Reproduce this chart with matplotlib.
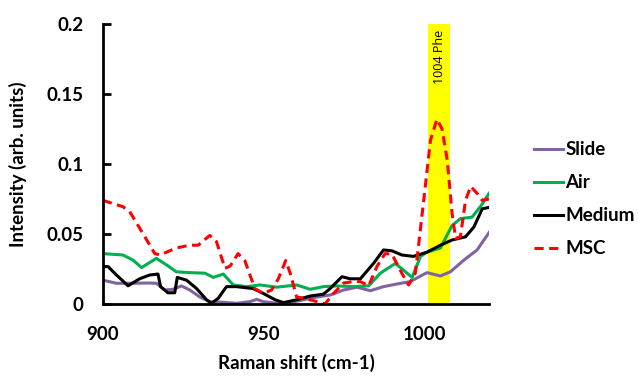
import matplotlib.pyplot as plt
from matplotlib.ticker import FuncFormatter

plt.rcParams['font.family'] = ['Lato', 'DejaVu Sans']
plt.rcParams['font.weight'] = 'bold'

# Slide (purple)
slide_x = [900, 904.2, 909.3, 914, 916.6, 919.2, 921.8, 924.4, 927, 930.1, 933.2, 937.4,
           941.5, 945.7, 947.8, 949.8, 954, 958.2, 962.3, 966.5, 970.6, 974.8, 979, 983.1,
           987.2, 991.4, 995.5, 1000.7, 1004.9, 1008, 1012.2, 1016.3, 1020]
slide_y = [0.017, 0.0148, 0.0148, 0.015, 0.0148, 0.010, 0.0105, 0.0129, 0.010, 0.005, 0.0017, 0.0012,
           0.0005, 0.0017, 0.0033, 0.0017, 0.0005, 0.001, 0.003, 0.005, 0.0064, 0.010, 0.012, 0.0095,
           0.0124, 0.0143, 0.016, 0.0224, 0.020, 0.023, 0.0314, 0.0386, 0.051]

# Air (green)
air_x = [900, 906.2, 909.3, 912, 916.6, 919.7, 922.8, 927, 931.7, 934.3, 937.4, 940.5, 944.7,
         948.8, 954, 960.2, 964.4, 968.5, 972.7, 977.9, 982.6, 986.2, 990.9, 994, 996.1, 998.7,
         1000.7, 1004.9, 1008.5, 1011.1, 1014.7, 1017.3, 1020]
air_y = [0.036, 0.035, 0.0314, 0.026, 0.0326, 0.028, 0.023, 0.0224, 0.022, 0.019, 0.0214, 0.0136, 0.0124,
         0.0136, 0.012, 0.0136, 0.0105, 0.0124, 0.0129, 0.0124, 0.013, 0.022, 0.029, 0.023, 0.019, 0.034,
         0.037, 0.040, 0.056, 0.061, 0.062, 0.0695, 0.079]

# Medium (black)
medium_x = [900, 901.6, 904.2, 907.8, 911.4, 914.5, 917.1, 917.9, 920.2, 922.3, 923.1, 926, 929.1,
            932.2, 933.7, 935.8, 938.4, 941.5, 946.7, 949.8, 953.5, 956.1, 960.2, 964.4, 968.5, 970.6,
            974.3, 976.8, 980, 984.1, 987.2, 989.8, 992.9, 996.5, 1000.7, 1004.9, 1008.5, 1012.7,
            1015.3, 1017.9, 1020]
medium_y = [0.0267, 0.0267, 0.0207, 0.013, 0.018, 0.0207, 0.0214, 0.0124, 0.008, 0.008, 0.019, 0.017, 0.011,
            0.003, 0.0005, 0.004, 0.0124, 0.0124, 0.011, 0.0076, 0.003, 0.001, 0.003, 0.0057, 0.007, 0.011,
            0.0195, 0.018, 0.018, 0.029, 0.0386, 0.038, 0.035, 0.034, 0.037, 0.042, 0.0457, 0.048,
            0.055, 0.068, 0.069]

# MSC (red dashed)
msc_x = [900, 906.2, 908.3, 912.5, 916.1, 917.7, 922.8, 927, 929.6, 933.2, 935.3, 937.9, 939.5, 942,
         944.1, 947.2, 949.8, 952.4, 954.5, 956.8, 958.2, 960.2, 962.8, 966.5, 969, 971.7, 974.8,
         977.9, 980, 982.6, 985.2, 987.7, 989.8, 992.9, 995, 997.1, 999.7, 1001.8, 1003.8, 1005.4,
         1007, 1008.5, 1009.6, 1011.1, 1012.7, 1014.3, 1016.3, 1017.9, 1020]
msc_y = [0.074, 0.0695, 0.066, 0.050, 0.036, 0.035, 0.040, 0.042, 0.042, 0.049, 0.0445, 0.0255, 0.027, 0.036,
         0.031, 0.011, 0.0076, 0.010, 0.018, 0.031, 0.022, 0.005, 0.004, 0.0017, 0.0, 0.0076, 0.015,
         0.016, 0.016, 0.013, 0.027, 0.036, 0.0357, 0.022, 0.0136, 0.022, 0.074, 0.117, 0.132, 0.125,
         0.103, 0.065, 0.047, 0.048, 0.074, 0.084, 0.079, 0.074, 0.075]

band = (1001, 1008)

fig = plt.figure(figsize=(6.38, 3.76), dpi=100)
ax = fig.add_axes([0.1614, 0.1915, 0.6051, 0.7447])

ax.axvspan(band[0], band[1], color='#FFFF00', lw=0, zorder=0)
ax.text((band[0] + band[1]) / 2, 0.196, '1004 Phe', rotation=90, ha='center', va='top',
        fontsize=9, fontweight='normal', family=['Open Sans', 'DejaVu Sans'])

line_kw = dict(lw=2.2, solid_joinstyle='round', dash_joinstyle='round')
ax.plot(slide_x, slide_y, color='#8064A2', label='Slide', **line_kw)
ax.plot(air_x, air_y, color='#00B050', label='Air', **line_kw)
ax.plot(medium_x, medium_y, color='black', label='Medium', **line_kw)
ax.plot(msc_x, msc_y, color='#FF0000', ls=(0, (3, 1.8)), label='MSC', **line_kw)

ax.set_xlim(900, 1020)
ax.set_ylim(0, 0.2)
ax.set_xticks([900, 950, 1000])
ax.set_yticks([0, 0.05, 0.1, 0.15, 0.2])
ax.yaxis.set_major_formatter(FuncFormatter(lambda v, p: '0' if v == 0 else f'{v:g}'))
ax.tick_params(axis='x', length=0, pad=16, labelsize=13.5)
ax.tick_params(axis='y', direction='in', length=6, width=2, pad=14, labelsize=13.5)
for s in ['top', 'right']:
    ax.spines[s].set_visible(False)
for s in ['left', 'bottom']:
    ax.spines[s].set_linewidth(2)

ax.set_xlabel('Raman shift (cm-1)', fontsize=13.5, fontweight='bold', labelpad=8)
ax.set_ylabel('Intensity (arb. units)', fontsize=13.5, fontweight='bold', labelpad=14)

fig.legend(loc='center left', bbox_to_anchor=(0.822, 0.47), frameon=False, fontsize=13.5,
           handlelength=1.55, handletextpad=0.12, labelspacing=0.85, borderpad=0)

fig.savefig('out.png', dpi=100)
